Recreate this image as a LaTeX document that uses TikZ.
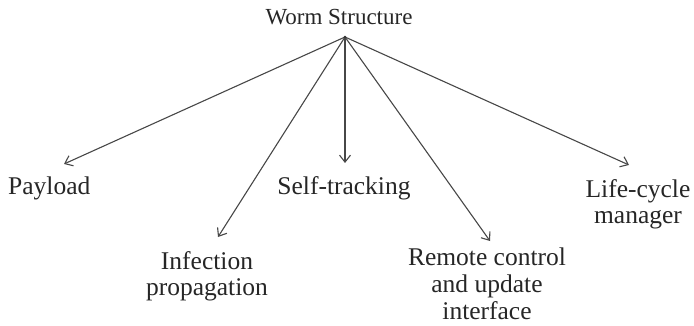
\documentclass[tikz,border=0pt]{standalone}
\usepackage{fontspec}
\setmainfont{Liberation Serif}
\usetikzlibrary{arrows.meta}
\begin{document}
\begin{tikzpicture}[x=1pt,y=-1pt,
  lbl/.style={inner sep=0pt,align=center,text=black!85,font=\fontsize{25.5}{25.5}\selectfont},
  ttl/.style={inner sep=0pt,text=black!85,font=\fontsize{23}{24}\selectfont},
  arr/.style={draw=black!72,line width=1.1pt,-{Straight Barb[length=7pt,width=11pt,line width=1.1pt]}}]
\useasboundingbox (0,0) rectangle (694,326);
\node[ttl,anchor=base] (root) at (339,25) {Worm Structure};
\coordinate (hub) at (345,37);
\node[lbl,anchor=base west] (pay) at (8,194) {Payload};
\node[lbl,anchor=base] (self) at (344,194) {Self-tracking};
\node[lbl,anchor=base] (life) at (638,223) {Life-cycle\\manager};
\node[lbl,anchor=base] (inf) at (207,295) {Infection\\propagation};
\node[lbl,anchor=base,font=\fontsize{25.5}{27}\selectfont] (rem) at (487,319) {Remote control\\and update\\interface};
\coordinate (tpay) at (64,164);
\coordinate (tinf) at (218,237);
\coordinate (tself) at (345,163);
\coordinate (trem) at (490,241);
\coordinate (tlife) at (629,165);
\foreach \t in {tpay,tinf,tself,trem,tlife}
  \draw[arr] (hub) -- (\t);
\fill[black!80] (hub) circle (1.4pt);
\end{tikzpicture}
\end{document}
